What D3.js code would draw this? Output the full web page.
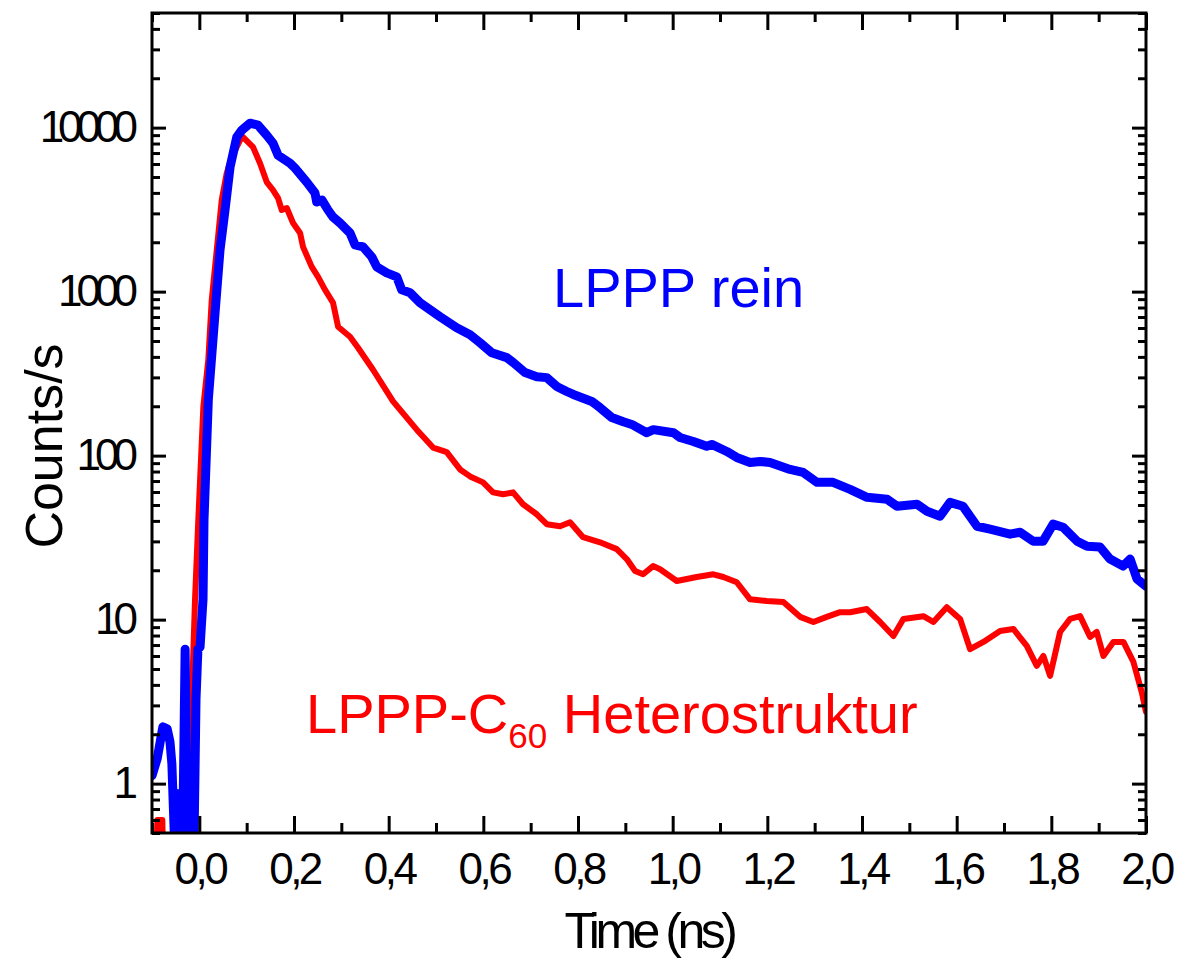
<!DOCTYPE html>
<html>
<head>
<meta charset="utf-8">
<script src="https://cdn.jsdelivr.net/npm/d3@7"></script>
<style>
  body { margin: 0; background: #fff; }
  svg { font-family: 'Liberation Sans', Arial, sans-serif; }
</style>
</head>
<body>
<div id="chart"></div>
<script>
// Time axis (ns) and counts
const blueTime = [
  -0.100, -0.089, -0.077, -0.068, -0.062, -0.058, -0.053, -0.047, -0.043, -0.035,
  -0.030, -0.026, -0.011, -0.007, -0.003, 0.0015, 0.0078, 0.0099, 0.019, 0.0332,
  0.0437, 0.0543, 0.0649, 0.079, 0.0896, 0.1071, 0.124, 0.1424, 0.1557, 0.1663,
  0.1916, 0.2022, 0.2269, 0.2444, 0.248, 0.2592, 0.2719, 0.2825, 0.2973, 0.3184,
  0.329, 0.3459, 0.3643, 0.3748, 0.3959, 0.4171, 0.4276, 0.4452, 0.4663, 0.5086,
  0.5438, 0.572, 0.5931, 0.6178, 0.6495, 0.6634, 0.6882, 0.7129, 0.734, 0.7551,
  0.7763, 0.7902, 0.8291, 0.8466, 0.8713, 0.8958, 0.9136, 0.9453, 0.9592, 1.0015,
  1.0156, 1.0437, 1.072, 1.0826, 1.1143, 1.1354, 1.1635, 1.1847, 1.2058, 1.248,
  1.2755, 1.305, 1.3388, 1.3748, 1.4107, 1.4529, 1.474, 1.5163, 1.5374, 1.5649,
  1.586, 1.6134, 1.643, 1.6705, 1.7128, 1.7339, 1.7613, 1.7826, 1.8037, 1.8248,
  1.8544, 1.8755, 1.903, 1.9241, 1.9516, 1.9664, 1.9811, 2.0
]
const blueCounts = [
  1.12, 1.42, 2.22, 2.16, 1.80, 1.32, 0.5, 0.87, 0.5, 0.5,
  6.6, 0.5, 0.5, 3.3, 6.6, 6.8, 13.3, 40.9, 220, 743,
  1796, 3146, 5743, 8745, 9640, 10640, 10350, 8990, 8040, 6790,
  6070, 5660, 4655, 3990, 3517, 3616, 3146, 2851, 2620, 2279,
  1926, 1874, 1629, 1416, 1301, 1230, 1025, 984, 855, 703,
  602, 546, 488, 424, 396, 369, 321, 303, 299, 264,
  246, 236, 214, 196, 171, 161, 155, 138, 144, 138,
  129, 122, 114, 117, 106, 97.5, 90.9, 92.2, 90.9, 82.4,
  79.0, 68.7, 68.7, 62.3, 55.7, 54.2, 49.1, 50.5, 45.8, 42.7,
  51.9, 49.1, 37.1, 35.6, 33.2, 34.1, 30.1, 30.1, 38.2, 36.6,
  30.1, 28.0, 27.7, 23.4, 21.2, 23.4, 17.7, 16.0
]

const redTime = [
  -0.100, -0.0909, -0.0888, -0.0782, -0.0761, -0.0218, -0.0154, -0.0091, -0.0021, 0.0085,
  0.019, 0.0262, 0.0368, 0.0473, 0.0579, 0.0685, 0.086, 0.0924, 0.1135, 0.1282,
  0.1424, 0.1557, 0.1663, 0.1741, 0.1847, 0.198, 0.2128, 0.2191, 0.2375, 0.2508,
  0.2656, 0.2825, 0.2931, 0.3184, 0.3353, 0.367, 0.4093, 0.4593, 0.4938, 0.5227,
  0.5508, 0.572, 0.5994, 0.6205, 0.6417, 0.6628, 0.6839, 0.7129, 0.734, 0.7621,
  0.7832, 0.8107, 0.8466, 0.8819, 0.903, 0.9206, 0.9375, 0.9586, 0.9734, 1.0087,
  1.0509, 1.086, 1.1071, 1.1354, 1.1635, 1.1988, 1.2339, 1.2692, 1.2973, 1.3256,
  1.3537, 1.3748, 1.4101, 1.4382, 1.4663, 1.4874, 1.5297, 1.5508, 1.5791, 1.6072,
  1.6284, 1.6565, 1.6917, 1.7198, 1.7481, 1.7693, 1.7832, 1.7974, 1.8185, 1.8397,
  1.8608, 1.8819, 1.896, 1.91, 1.9311, 1.9523, 1.9734, 1.9911, 2.0
]
const redCounts = [
  0.3, 0.3, 0.6, 0.6, 0.3, 0.3, 3.6, 13.3, 41, 199,
  385, 891, 1796, 3616, 5280, 6605, 8380, 8745, 7600, 6070,
  4655, 4160, 3721, 3146, 3235, 2620, 2279, 1874, 1416, 1230,
  1025, 855, 611, 531, 455, 334, 214, 144, 112, 105,
  82.4, 74.7, 68.7, 59.7, 58.1, 59.7, 50.5, 43.9, 38.2, 37.1,
  39.2, 31.8, 29.6, 26.9, 23.4, 19.8, 18.9, 21.2, 20.3, 17.2,
  18.2, 18.9, 18.2, 16.9, 13.3, 13.0, 12.8, 10.4, 9.67, 10.4,
  11.1, 11.1, 11.6, 9.67, 7.95, 10.1, 10.5, 9.67, 11.9, 10.1,
  6.6, 7.31, 8.52, 8.77, 6.91, 5.22, 6.01, 4.54, 8.41, 10.1,
  10.5, 7.84, 8.41, 6.01, 7.31, 7.31, 5.52, 3.6, 2.74
]

const xMajorTicks = [0, 0.2, 0.4, 0.6, 0.8, 1.0, 1.2, 1.4, 1.6, 1.8, 2.0]
const xMinorTicks = [-0.1, 0.1, 0.3, 0.5, 0.7, 0.9, 1.1, 1.3, 1.5, 1.7, 1.9]
const yMajorTicks = [1, 10, 100, 1000, 10000]
const yMinorTicks = [0.5, 0.6, 0.7, 0.8, 0.9,
  2, 3, 4, 5, 6, 7, 8, 9, 20, 30, 40, 50, 60, 70, 80, 90,
  200, 300, 400, 500, 600, 700, 800, 900, 2000, 3000, 4000, 5000, 6000, 7000, 8000, 9000,
  20000, 30000, 40000, 50000]

if (blueTime.length !== blueCounts.length || redTime.length !== redCounts.length) {
  console.warn('series length mismatch', blueTime.length, blueCounts.length, redTime.length, redCounts.length)
}

const width = 1180
const height = 960
const margin = {left: 152, top: 13, right: 34, bottom: 127}
const plotW = width - margin.left - margin.right
const plotH = height - margin.top - margin.bottom

const svg = d3.select('#chart')
  .append('svg')
  .attr('width', width)
  .attr('height', height)

const xScale = d3.scaleLinear().domain([-0.1, 2.0]).range([0, plotW])
const yScale = d3.scaleLog().domain([0.5, 50000]).range([plotH, 0])

const g = svg.append('g')
  .attr('transform', `translate(${margin.left},${margin.top})`)

// Clip so data below 0.5 is cut at the axis
g.append('clipPath')
  .attr('id', 'plot-clip')
  .append('rect')
  .attr('width', plotW)
  .attr('height', plotH)

const line = d3.line()
  .x(d => xScale(d[0]))
  .y(d => yScale(d[1]))

const redData = redTime.map((t, i) => [t, redCounts[i]])
const blueData = blueTime.map((t, i) => [t, blueCounts[i]])

const gLines = g.append('g').attr('clip-path', 'url(#plot-clip)')
gLines.append('path')
  .datum(redData)
  .attr('d', line)
  .style('fill', 'none')
  .style('stroke', '#ff0000')
  .style('stroke-width', 6)
  .style('stroke-linejoin', 'round')
  .style('stroke-linecap', 'round')
gLines.append('path')
  .datum(blueData)
  .attr('d', line)
  .style('fill', 'none')
  .style('stroke', '#0000ff')
  .style('stroke-width', 9)
  .style('stroke-linejoin', 'round')
  .style('stroke-linecap', 'round')

// Axes - all ticks point inward
function styleAxis(sel) {
  sel.select('.domain').remove()
  sel.selectAll('line').style('stroke', '#000').style('stroke-width', 3)
}

g.append('g')
  .attr('transform', `translate(0,${plotH})`)
  .call(d3.axisBottom(xScale).tickValues(xMajorTicks)
    .tickSizeInner(-17).tickSizeOuter(0).tickPadding(20)
    .tickFormat(d => d3.format('.1f')(d).replace('.', ',')))
  .call(styleAxis)
  .call(a => a.selectAll('text')
    .style('font-size', '44px')
    .style('letter-spacing', '-3.5px')
    .style('fill', '#000'))
g.append('g')
  .attr('transform', `translate(0,${plotH})`)
  .call(d3.axisBottom(xScale).tickValues(xMinorTicks)
    .tickSizeInner(-10).tickSizeOuter(0).tickFormat(''))
  .call(styleAxis)
g.append('g')
  .call(d3.axisTop(xScale).tickValues(xMajorTicks)
    .tickSizeInner(-17).tickSizeOuter(0).tickFormat(''))
  .call(styleAxis)
g.append('g')
  .call(d3.axisTop(xScale).tickValues(xMinorTicks)
    .tickSizeInner(-9).tickSizeOuter(0).tickFormat(''))
  .call(styleAxis)

g.append('g')
  .call(d3.axisLeft(yScale).tickValues(yMajorTicks)
    .tickSizeInner(-14).tickSizeOuter(0).tickPadding(20)
    .tickFormat(d3.format('d')))
  .call(styleAxis)
  .call(a => a.selectAll('text')
    .style('font-size', '44px')
    .style('letter-spacing', '-6px')
    .style('fill', '#000'))
g.append('g')
  .call(d3.axisLeft(yScale).tickValues(yMinorTicks)
    .tickSizeInner(-8).tickSizeOuter(0).tickFormat(''))
  .call(styleAxis)
g.append('g')
  .attr('transform', `translate(${plotW},0)`)
  .call(d3.axisRight(yScale).tickValues(yMajorTicks)
    .tickSizeInner(-14).tickSizeOuter(0).tickFormat(''))
  .call(styleAxis)
g.append('g')
  .attr('transform', `translate(${plotW},0)`)
  .call(d3.axisRight(yScale).tickValues(yMinorTicks)
    .tickSizeInner(-8).tickSizeOuter(0).tickFormat(''))
  .call(styleAxis)

// Frame
g.append('rect')
  .attr('width', plotW)
  .attr('height', plotH)
  .style('fill', 'none')
  .style('stroke', '#000')
  .style('stroke-width', 3)

// Axis titles
svg.append('text')
  .attr('transform', `translate(62,446) rotate(-90)`)
  .style('text-anchor', 'middle')
  .style('font-size', '52px')
  .text('Counts/s')
svg.append('text')
  .attr('x', margin.left + plotW / 2)
  .attr('y', 948)
  .style('text-anchor', 'middle')
  .style('font-size', '50px')
  .style('letter-spacing', '-4.5px')
  .text('Time (ns)')

// Curve labels
svg.append('text')
  .attr('x', 553)
  .attr('y', 307)
  .style('font-size', '56px')
  .style('fill', '#0000ff')
  .text('LPPP rein')

const redLabel = svg.append('text')
  .attr('x', 306)
  .attr('y', 733)
  .style('font-size', '56px')
  .style('fill', '#ff0000')
redLabel.append('tspan').text('LPPP-C')
redLabel.append('tspan').attr('dy', 15).style('font-size', '35px').text('60')
redLabel.append('tspan').attr('dy', -15).text(' Heterostruktur')
</script>
</body>
</html>
